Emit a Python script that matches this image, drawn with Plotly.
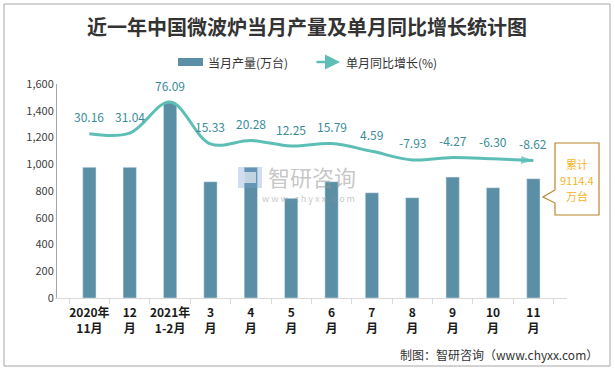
import plotly.graph_objects as go

categories = ["2020年<br>11月", "12<br>月", "2021年<br>1-2月", "3<br>月", "4<br>月", "5<br>月",
              "6<br>月", "7<br>月", "8<br>月", "9<br>月", "10<br>月", "11<br>月"]
output_wan = [977, 977, 1460, 869, 977, 745, 869, 787, 750, 904, 824, 892]
growth_pct = [30.16, 31.04, 76.09, 15.33, 20.28, 12.25, 15.79, 4.59, -7.93, -4.27, -6.30, -8.62]
growth_labels = ["30.16", "31.04", "76.09", "15.33", "20.28", "12.25", "15.79", "4.59",
                 "-7.93", "-4.27", "-6.30", "-8.62"]
cumulative_lines = ["累计", "9114.4", "万台"]

W, H = 615, 370
L, R, T, B = 57, 567, 84, 298

def px(x):
    return (x - L) / (R - L)

def py(y):
    return (B - y) / (B - T)

BAR = "#5B8FA6"
LINE = "#5DBEB6"
LABEL = "#3A8C99"
FONT = "Noto Sans CJK SC"

fig = go.Figure()
fig.add_trace(go.Bar(x=categories, y=output_wan, marker_color=BAR, width=0.33,
                     hoverinfo="skip", showlegend=False))

n = len(categories)
sizes = [11] + [0] * (n - 2) + [13]
symbols = ["circle"] + ["circle"] * (n - 2) + ["arrow"]
colors = ["#F3B51F"] + [LINE] * (n - 1)
fig.add_trace(go.Scatter(x=categories, y=growth_pct, yaxis="y2", mode="lines+markers",
                         line=dict(color=LINE, width=3, shape="spline", smoothing=1.0),
                         marker=dict(size=sizes, symbol=symbols, color=colors,
                                     angleref="previous", line=dict(width=0)),
                         hoverinfo="skip", showlegend=False))

annotations = []
for c, v, t in zip(categories, growth_pct, growth_labels):
    annotations.append(dict(x=c, y=v, xref="x", yref="y2", text=t, showarrow=False,
                            yshift=17, font=dict(family=FONT, size=12, color=LABEL)))

annotations.append(dict(x=px(307), y=py(27), xref="paper", yref="paper",
                        text="近一年中国微波炉当月产量及单月同比增长统计图",
                        showarrow=False, xanchor="center", yanchor="middle",
                        font=dict(family=FONT, size=20, color="#333333", weight="bold")))

annotations.append(dict(x=px(206), y=py(62), xref="paper", yref="paper", text="当月产量(万台)",
                        showarrow=False, xanchor="left", yanchor="middle",
                        font=dict(family=FONT, size=12, color="#333333")))
annotations.append(dict(x=px(344), y=py(62), xref="paper", yref="paper", text="单月同比增长(%)",
                        showarrow=False, xanchor="left", yanchor="middle",
                        font=dict(family=FONT, size=12, color="#333333")))
annotations.append(dict(x=px(340), y=py(62), xref="paper", yref="paper", text="",
                        showarrow=True, ax=-25, ay=0, axref="pixel", ayref="pixel",
                        arrowhead=2, arrowsize=1.2, arrowwidth=2.5, arrowcolor=LINE))

for t, yy in zip(cumulative_lines, [164, 180, 196]):
    annotations.append(dict(x=px(577), y=py(yy), xref="paper", yref="paper", text=t,
                            showarrow=False, xanchor="center", yanchor="middle",
                            font=dict(family=FONT, size=11, color="#F3B51F")))

annotations.append(dict(x=px(266), y=py(176), xref="paper", yref="paper", text="智研咨询",
                        showarrow=False, xanchor="left", yanchor="middle",
                        font=dict(family=FONT, size=22, color="rgba(150,150,150,0.55)")))
annotations.append(dict(x=px(308), y=py(198), xref="paper", yref="paper",
                        text="w w w . c h y x x . c o m",
                        showarrow=False, xanchor="center", yanchor="middle",
                        font=dict(family=FONT, size=9, color="rgba(150,150,150,0.55)")))

annotations.append(dict(x=px(600), y=py(355), xref="paper", yref="paper",
                        text="制图：智研咨询（www.chyxx.com）",
                        showarrow=False, xanchor="right", yanchor="middle",
                        font=dict(family=FONT, size=12, color="#333333")))

shapes = []
shapes.append(dict(type="rect", xref="paper", yref="paper", x0=px(4), x1=px(610), y0=py(4), y1=py(366),
                   line=dict(color="#A6A6A6", width=1), layer="below"))
shapes.append(dict(type="rect", xref="paper", yref="paper", x0=px(178), x1=px(203), y0=py(58), y1=py(66),
                   fillcolor=BAR, line=dict(width=0)))
shapes.append(dict(type="rect", xref="paper", yref="paper", x0=px(238), x1=px(262), y0=py(167), y1=py(188),
                   fillcolor="rgba(120,160,210,0.35)", line=dict(width=0)))
shapes.append(dict(type="rect", xref="paper", yref="paper", x0=px(244), x1=px(256), y0=py(172), y1=py(183),
                   fillcolor="rgba(255,255,255,0.6)", line=dict(width=0)))
pts = [(555, 143), (599, 143), (599, 215), (555, 215), (555, 203), (543, 197), (555, 190)]
path = "M " + " L ".join(f"{px(x):.5f},{py(y):.5f}" for x, y in pts) + " Z"
shapes.append(dict(type="path", xref="paper", yref="paper", path=path,
                   fillcolor="white", line=dict(color="#B8862B", width=1.2)))

fig.update_layout(
    width=W, height=H,
    margin=dict(l=L, r=W - R, t=T, b=H - B),
    paper_bgcolor="white", plot_bgcolor="white",
    xaxis=dict(type="category", showline=True, linecolor="#D9D9D9", linewidth=1,
               ticks="outside", tickson="boundaries", ticklen=5, tickcolor="#D9D9D9",
               tickangle=0, automargin=False, ticklabelstandoff=4,
               tickfont=dict(family=FONT, size=12, color="#1a1a1a", weight="bold"),
               showgrid=False, fixedrange=True),
    yaxis=dict(range=[0, 1600], dtick=200, tickformat=",", showgrid=False, zeroline=False,
               showline=True, linecolor="#A6A6A6", linewidth=1, ticks="", automargin=False,
               tickfont=dict(family=FONT, size=11, color="#404040")),
    yaxis2=dict(range=[-208, 102.2], overlaying="y", side="right", visible=False,
                showgrid=False, zeroline=False, automargin=False),
    annotations=annotations,
    shapes=shapes,
)

fig.write_html("out.html", config={"displayModeBar": False},
               post_script="document.body.style.margin='0';document.body.style.padding='0';")
